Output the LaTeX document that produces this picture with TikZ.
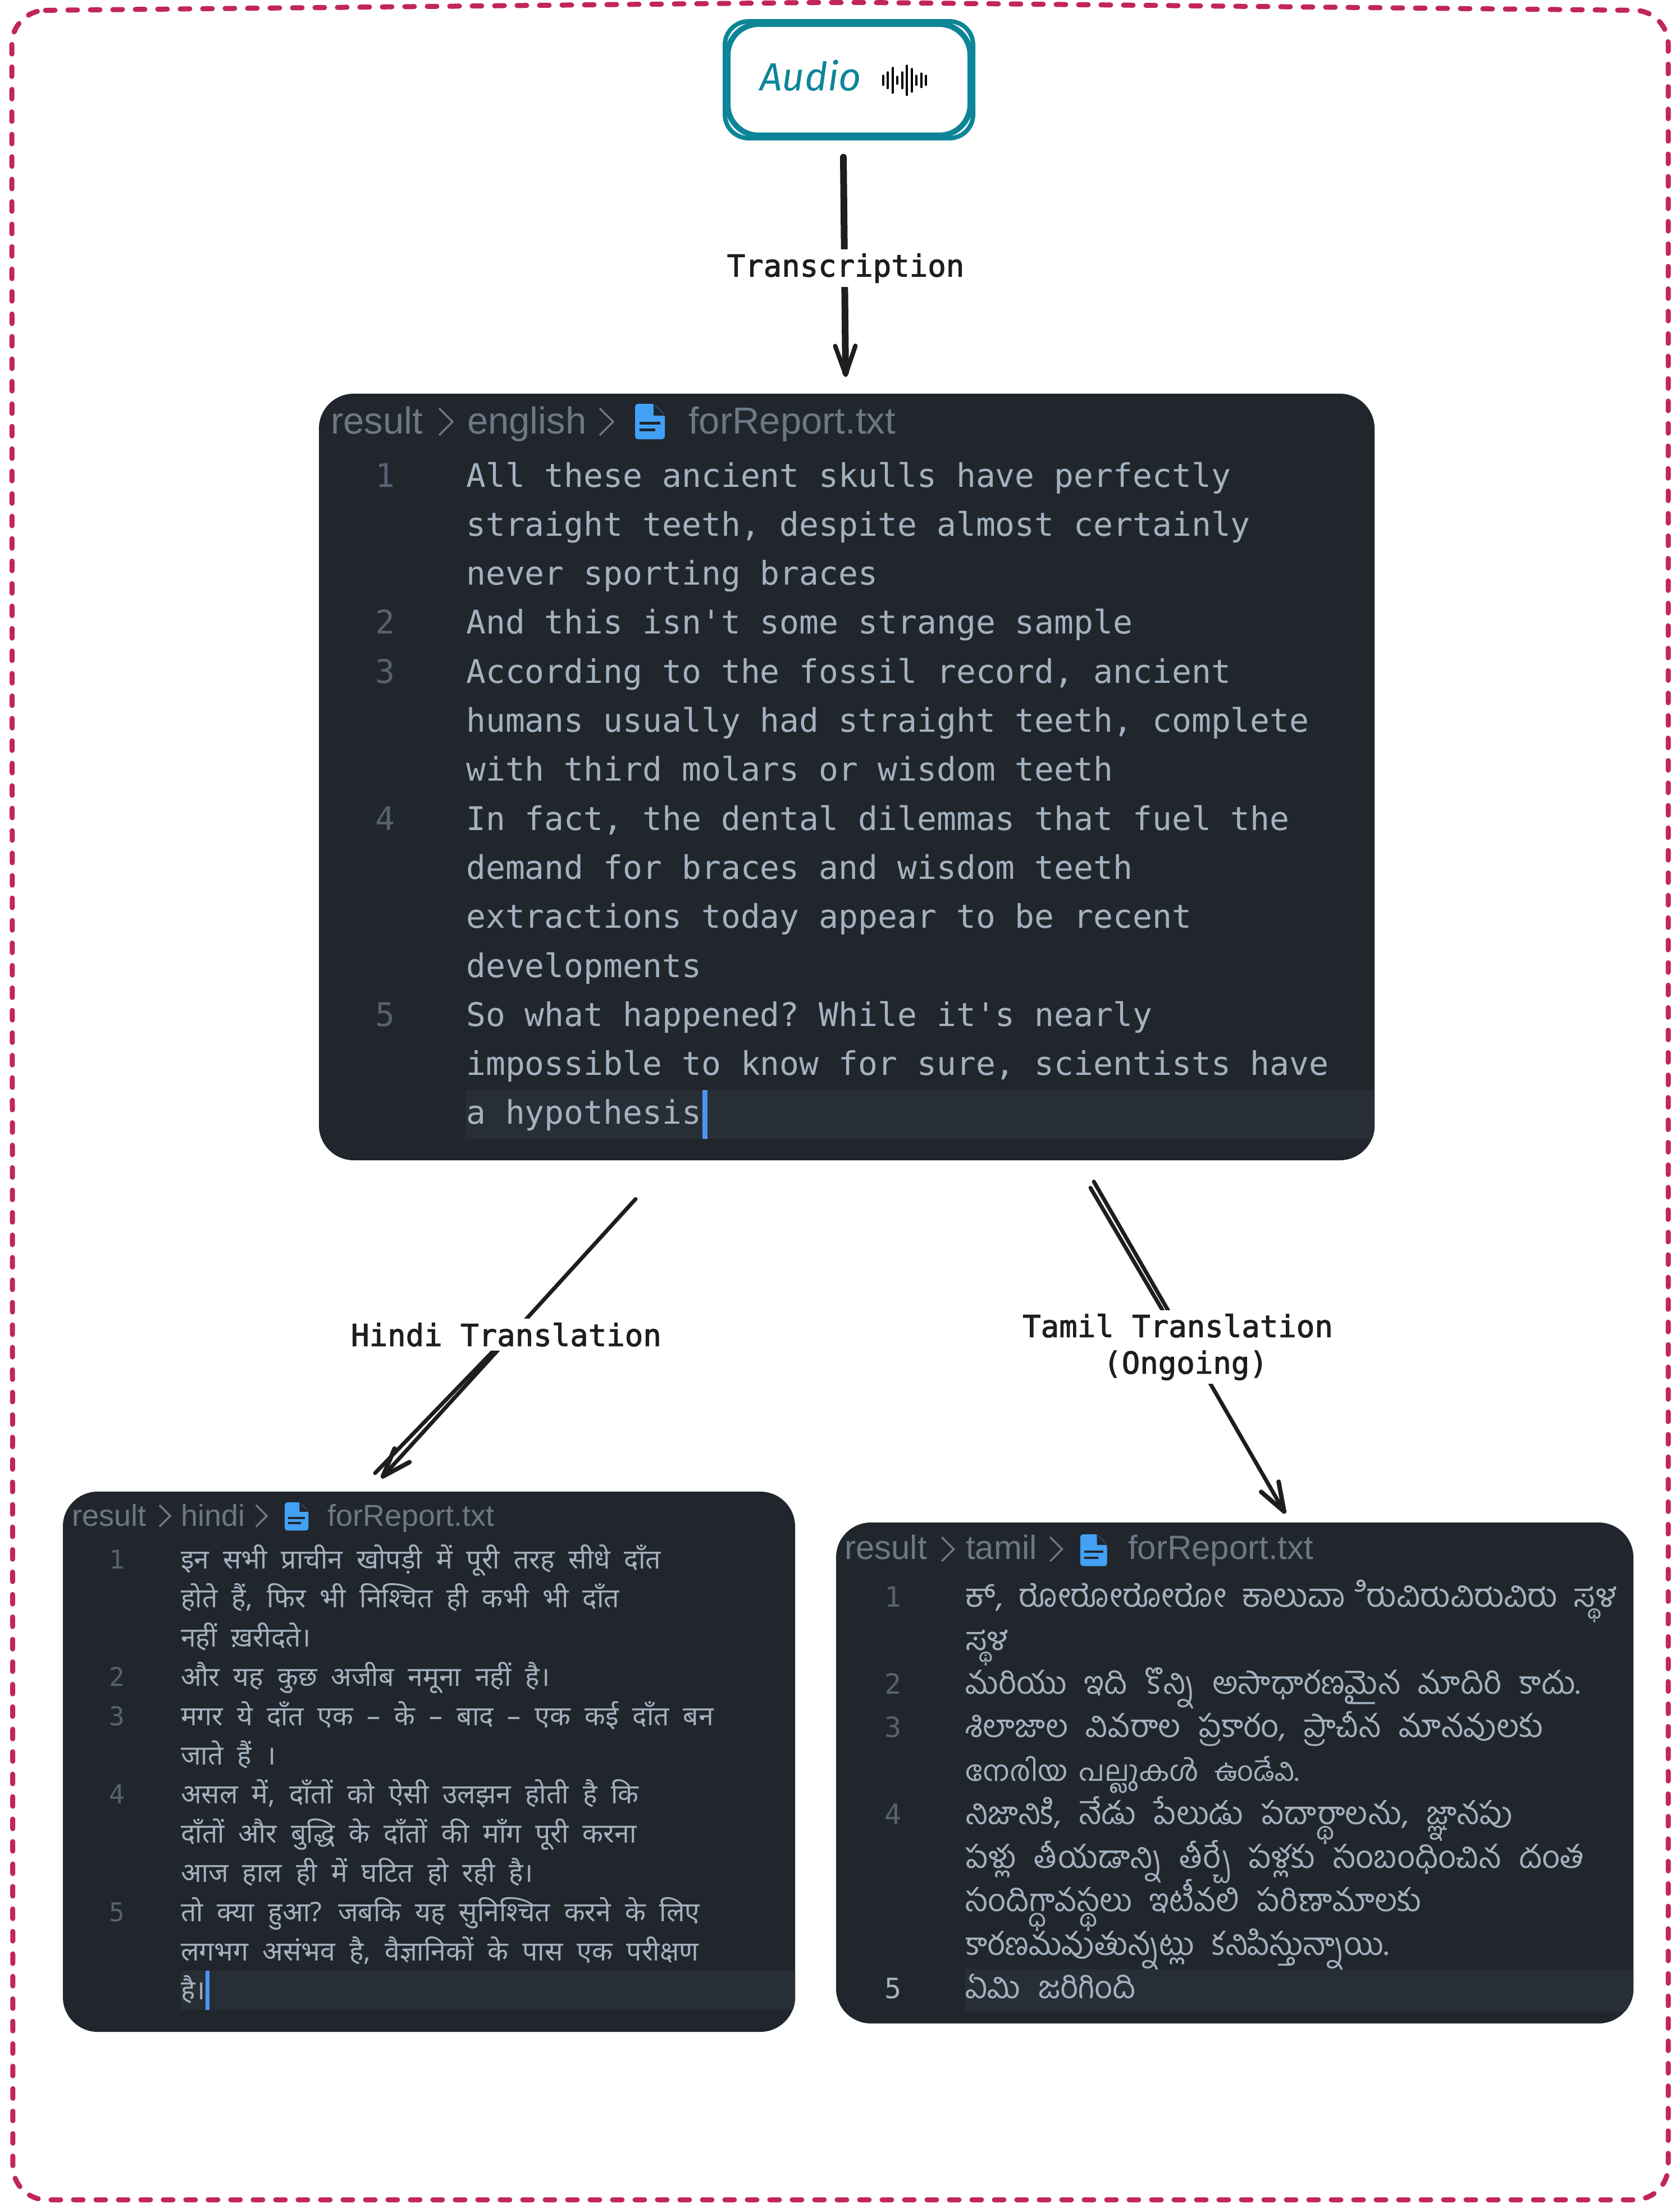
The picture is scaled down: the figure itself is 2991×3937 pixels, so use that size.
\documentclass[tikz,border=0pt]{standalone}
\usepackage{fontspec}
\usetikzlibrary{arrows.meta,positioning}
\setmainfont{Liberation Sans}
\setmonofont{DejaVu Sans Mono}
\newfontfamily\labelfont[FakeBold=2]{DejaVu Sans Mono}
\newfontfamily\audiofont{Fira Sans}
\newfontfamily\devafont[Script=Devanagari,WordSpace=2.0]{Noto Sans}
\newfontfamily\telugufont[Script=Telugu,WordSpace=2.3]{Hind Guntur}
\newfontfamily\kannadafont[Script=Kannada,WordSpace=2.0]{Hind Mysuru}
\newfontfamily\malayalamfont[Script=Malayalam,WordSpace=1.6]{Hind Kochi}
\definecolor{panelbg}{HTML}{21262D}
\definecolor{bandbg}{HTML}{282E36}
\definecolor{codefg}{HTML}{A3B1C0}
\definecolor{numfg}{HTML}{566270}
\definecolor{crumbfg}{HTML}{6B7885}
\definecolor{iconblue}{HTML}{42A0F5}
\definecolor{cursorblue}{HTML}{4E94F0}
\definecolor{audioteal}{HTML}{0C8599}
\definecolor{framered}{HTML}{C2255C}
\definecolor{inkblack}{HTML}{1E1E1E}

\begin{document}
\begin{tikzpicture}[x=1pt, y=-1pt,
    panel/.style={fill=panelbg, rounded corners=62pt, inner sep=0pt},
    audiobox/.style={draw=audioteal, line width=10pt, rounded corners=55pt, inner sep=0pt, minimum width=432pt, minimum height=198pt},
    crumb/.style={anchor=base west, inner sep=0pt, text=crumbfg},
    codeline/.style={anchor=base west, inner sep=0pt, text=codefg},
    linenum/.style={anchor=base, inner sep=0pt, text=numfg},
    flow/.style={draw=inkblack, line width=#1, -{Straight Barb[length=51pt, width=36pt, line width=8pt, round]}, line cap=round},
    flowstroke/.style={draw=inkblack, line width=7pt, line cap=round},
    flowlabel/.style={fill=white, inner xsep=8pt, inner ysep=7pt, text=inkblack, align=center, font=\labelfont\fontsize{54}{65}\selectfont},
    fileicon/.pic={
        \fill[iconblue, rounded corners=5pt] (0,0) -- (34,0) -- (53,20) -- (53,63) -- (0,63) -- cycle;
        \fill[panelbg] (33,0) -- (53,21) -- (33,21) -- cycle;
        \fill[panelbg] (8,32) rectangle (45,37);
        \fill[panelbg] (8,44) rectangle (36,49);
    },
    chevron/.pic={
        \draw[crumbfg, line width=3.5pt] (0,0) -- (24,24) -- (0,48);
    }]
    \useasboundingbox (0,0) rectangle (2991,3937);
    \fill[white] (0,0) rectangle (2991,3937);

    \draw[framered, line width=9pt, line cap=round, dash pattern=on 17pt off 23pt, rounded corners=60pt]
        (21,19) -- (1500,4) -- (2971,19) -- (2971,3917) -- (23,3917) -- cycle;

    \node[audiobox] (audio) at (1512,142) {};
    \draw[audioteal, line width=8pt, rounded corners=42pt] (audio.south west) rectangle (audio.north east);
    \node[inner sep=0pt, anchor=base west, text=audioteal, font=\audiofont\itshape\fontsize{70}{70}\selectfont] (audiolabel) at (1353,161) {Audio};
    \foreach \bar/\halfh [count=\i] in {1573/8,1581/14,1590/22,1598/6,1607/14,1615/26,1624/20,1632/8,1641/12,1649/8}
        \draw[black, line width=4pt, line cap=round] (\bar,143-\halfh) -- (\bar,143+\halfh);

    \node[panel, minimum width=1880pt, minimum height=1365pt] (english) at (1508,1383.5) {};
    \node[panel, minimum width=1304pt, minimum height=962pt] (hindi) at (764,3137) {};
    \node[panel, minimum width=1420pt, minimum height=892pt] (tamil) at (2199,3157) {};

    \foreach \panelname/\bandx/\bandtop/\bandbot in {english/829/1941/2028, hindi/322/3509/3579, tamil/1719/3506/3582} {
        \begin{scope}
            \clip[rounded corners=62pt] (\panelname.south west) rectangle (\panelname.north east);
            \fill[bandbg] (\bandx,\bandtop) rectangle (3000,\bandbot);
        \end{scope}
    }
    \fill[cursorblue] (1251,1941) rectangle (1260,2028);
    \fill[cursorblue] (366,3509) rectangle (373,3579);

    \coordinate (audioout) at (1502,280);
    \coordinate (englishin) at (1506,671);
    \coordinate (hindiout) at (1132,2135);
    \coordinate (hindimid) at (880,2404);
    \coordinate (hindiin) at (679,2632);
    \coordinate (hindiinb) at (668,2623);
    \coordinate (tamilout) at (1948,2104);
    \coordinate (tamiloutb) at (1942,2115);
    \coordinate (tamilmid) at (2071,2334);
    \coordinate (tamilin) at (2289,2695);

    \draw[flowstroke] (hindimid) -- (hindiinb);
    \draw[flowstroke] (tamiloutb) -- (tamilmid);
    \draw[flow=12pt] (audioout) -- node[flowlabel, xshift=2pt, yshift=-2pt] (transcribe) {Transcription} (englishin);
    \draw[flow=7pt] (hindiout) -- node[flowlabel, xshift=-4pt, yshift=7pt] (tohindi) {Hindi Translation} (hindiin);
    \draw[flow=7pt] (tamilout) -- node[flowlabel, xshift=-21pt, yshift=1pt] (totamil) {Tamil Translation\\\hspace*{28pt}(Ongoing)} (tamilin);

    \begin{scope}[font=\fontsize{67}{67}\selectfont]
        \node[crumb] (engroot) at (589,772) {result};
        \node[crumb] (engdir) at (832,772) {english};
        \node[crumb] (engfile) at (1226,772) {forReport.txt};
        \pic at (782,727) {chevron};
        \pic at (1068,727) {chevron};
        \pic at (1131,719) {fileicon};
    \end{scope}
    \foreach \txt [count=\i] in {All these ancient skulls have perfectly,
        {straight teeth, despite almost certainly},
        never sporting braces,
        And this isn't some strange sample,
        {According to the fossil record, ancient},
        {humans usually had straight teeth, complete},
        with third molars or wisdom teeth,
        {In fact, the dental dilemmas that fuel the},
        demand for braces and wisdom teeth,
        extractions today appear to be recent,
        developments,
        So what happened? While it's nearly,
        {impossible to know for sure, scientists have},
        a hypothesis}
        \node[codeline, font=\ttfamily\fontsize{58}{58}\selectfont] (eng\i) at (830,{867+87.3*(\i-1)}) {\txt};
    \foreach \num/\row in {1/1,2/4,3/5,4/8,5/12}
        \node[linenum, font=\ttfamily\fontsize{58}{58}\selectfont] (engnum\num) at (686,{867+87.3*(\row-1)}) {\num};

    \begin{scope}[font=\fontsize{54}{54}\selectfont]
        \node[crumb] (hinroot) at (128,2717) {result};
        \node[crumb] (hindir) at (322,2717) {hindi};
        \node[crumb] (hinfile) at (583,2717) {forReport.txt};
        \pic[scale=.8] at (284,2680) {chevron};
        \pic[scale=.8] at (456,2680) {chevron};
        \pic[scale=.8] at (507,2675) {fileicon};
    \end{scope}
    \foreach \txt [count=\i] in {इन सभी प्राचीन खोपड़ी में पूरी तरह सीधे दाँत,
        {होते हैं, फिर भी निश्चित ही कभी भी दाँत},
        नहीं ख़रीदते।,
        और यह कुछ अजीब नमूना नहीं है।,
        मगर ये दाँत एक – के – बाद – एक कई दाँत बन,
        जाते हैं ।,
        {असल में, दाँतों को ऐसी उलझन होती है कि},
        दाँतों और बुद्धि के दाँतों की माँग पूरी करना,
        आज हाल ही में घटित हो रही है।,
        तो क्या हुआ? जबकि यह सुनिश्चित करने के लिए,
        {लगभग असंभव है, वैज्ञानिकों के पास एक परीक्षण},
        है।}
        \node[codeline, font=\devafont\fontsize{48}{48}\selectfont] (hin\i) at (322,{2793+69.8*(\i-1)}) {\txt};
    \foreach \num/\row in {1/1,2/4,3/5,4/7,5/10}
        \node[linenum, font=\ttfamily\fontsize{46}{46}\selectfont] (hinnum\num) at (208,{2793+69.8*(\row-1)}) {\num};

    \begin{scope}[font=\fontsize{60}{60}\selectfont]
        \node[crumb] (tamroot) at (1504,2776) {result};
        \node[crumb] (tamdir) at (1720,2776) {tamil};
        \node[crumb] (tamfile) at (2009,2776) {forReport.txt};
        \pic[scale=.9] at (1677,2737) {chevron};
        \pic[scale=.9] at (1870,2737) {chevron};
        \pic[scale=.9] at (1924,2732) {fileicon};
    \end{scope}
    \foreach \txt [count=\i] in {{\kannadafont\fontsize{58}{58}\selectfont ಕ್, ರೋರೋರೋರೋ ಕಾಲುವಾ^^^^00a0ಿರುವಿರುವಿರುವಿರು ಸ್ಥಳ},
        {\kannadafont\fontsize{58}{58}\selectfont ಸ್ಥಳ},
        మరియు ఇది కొన్ని అసాధారణమైన మాదిరి కాదు.,
        {శిలాజాల వివరాల ప్రకారం, ప్రాచీన మానవులకు},
        {\fontsize{50}{50}\selectfont{\malayalamfont നേരിയ പല്ലുകൾ} ఉండేవి.},
        {నిజానికి, నేడు పేలుడు పదార్థాలను, జ్ఞానపు},
        పళ్లు తీయడాన్ని తీర్చే పళ్లకు సంబంధించిన దంత,
        సందిగ్ధావస్థలు ఇటీవలి పరిణామాలకు,
        కారణమవుతున్నట్లు కనిపిస్తున్నాయి.,
        ఏమి జరిగింది}
        \node[codeline, font=\telugufont\fontsize{56}{56}\selectfont] (tam\i) at (1719,{2861+77.5*(\i-1)}) {\txt};
    \foreach \num/\row in {1/1,2/3,3/4,4/6}
        \node[linenum, font=\ttfamily\fontsize{50}{50}\selectfont] (tamnum\num) at (1591,{2861+77.5*(\row-1)}) {\num};
    \node[linenum, text=codefg, font=\ttfamily\fontsize{50}{50}\selectfont] (tamnum5) at (1591,3558) {5};
\end{tikzpicture}
\end{document}
